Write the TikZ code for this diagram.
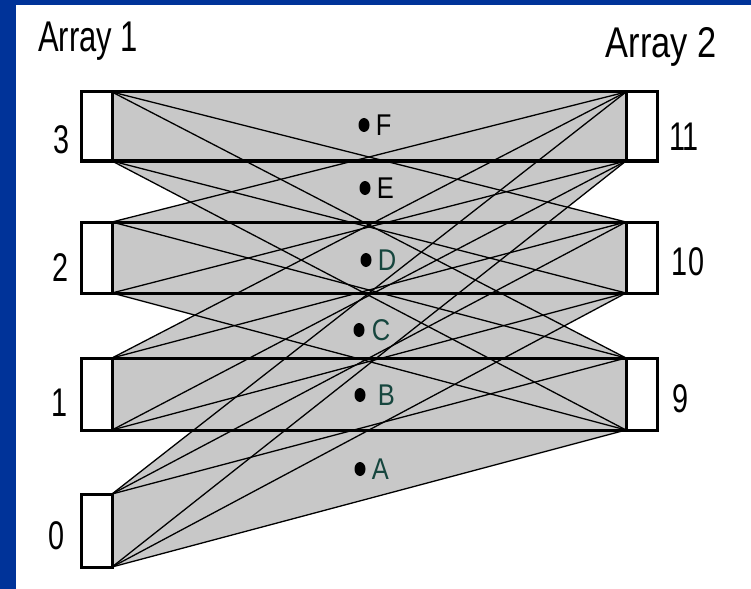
\documentclass[tikz,border=0pt]{standalone}
\usepackage{fontspec}
\setmainfont{Liberation Sans}
\newfontfamily\arrayfont[FakeStretch=0.72]{Liberation Sans}
\newfontfamily\widefont[FakeStretch=0.8]{Liberation Sans}
\newfontfamily\tagfont[FakeStretch=0.85]{Liberation Sans}
\usepackage{xcolor}
\usetikzlibrary{positioning,shapes.geometric,backgrounds}
\definecolor{slideblue}{RGB}{0,51,153}
\definecolor{regiongray}{RGB}{200,200,200}
\definecolor{tagteal}{RGB}{22,70,62}
\tikzset{cell/.style={draw, fill=white, line width=3pt, inner sep=0pt, outer sep=0pt, minimum width=31pt},
  edge/.style={line width=3pt},
  link/.style={line width=1.3pt},
  index/.style={font=\arrayfont\fontsize{40}{40}\selectfont, inner sep=0pt},
  title/.style={font=\arrayfont\fontsize{43}{43}\selectfont, inner sep=0pt},
  spot/.style={ellipse, fill, inner sep=0pt, minimum width=11pt, minimum height=14pt},
  tag/.style={font=\tagfont\fontsize{30}{30}\selectfont, inner sep=0pt, anchor=west}}

\begin{document}
\begin{tikzpicture}[x=1pt,y=-1pt]
\useasboundingbox (0,0) rectangle (751,588);

% the two arrays
\foreach \n/\c/\h in {3/126.5/69, 2/257.5/71, 1/394/72, 0/530.5/73}
  \node[cell, minimum height=\h pt] (a\n) at (96.5,\c) {};
\foreach \n/\c/\h in {11/126.5/69, 10/257.5/71, 9/394/72}
  \node[cell, minimum height=\h pt] (b\n) at (641.5,\c) {};

\begin{scope}[on background layer]
\fill[white] (-5,-5) rectangle (760,600);
\fill[slideblue] (-5,-5) rectangle (16,600);
\fill[slideblue] (-5,-5) rectangle (760,5);
\foreach \i in {0,...,3}
  \foreach \j in {9,10,11}
    \fill[regiongray] (a\i.north east) -- (b\j.north west) -- (b\j.south west) -- (a\i.south east) -- cycle;
\end{scope}

\foreach \i in {0,...,3}
  \foreach \j in {9,10,11}
    \draw[link] (a\i.north east) -- (b\j.north west) (a\i.south east) -- (b\j.south west);
\foreach \i/\j in {3/11,2/10,1/9}
  \draw[edge] (a\i.north east) -- (b\j.north west) (a\i.south east) -- (b\j.south west);

\node[title, anchor=base west] (t1) at (38,52) {Array 1};
\node[title, anchor=base east, font=\widefont\fontsize{43}{43}\selectfont] (t2) at (717,58) {Array 2};

\node[index] (n3) at (62,140) {3};
\node[index] (n2) at (61,268) {2};
\node[index] (n1) at (60,403) {1};
\node[index] (n0) at (57,536) {0};
\node[index] (n11) at (684,137) {11};
\node[index] (n10) at (688,262) {10};
\node[index] (n9) at (680,399) {9};

\node[spot] (pF) at (364,125) {};
\node[spot] (pE) at (365,188) {};
\node[spot] (pD) at (366,260) {};
\node[spot] (pC) at (359,330) {};
\node[spot] (pB) at (360,395) {};
\node[spot] (pA) at (360,469) {};
\node[tag, right=6pt of pF] (F) {F};
\node[tag, right=6pt of pE] (E) {E};
\node[tag, right=6pt of pD, text=tagteal] (D) {D};
\node[tag, right=7pt of pC, text=tagteal] (C) {C};
\node[tag, right=12pt of pB, text=tagteal] (B) {B};
\node[tag, right=6pt of pA, text=tagteal] (A) {A};
\end{tikzpicture}
\end{document}
